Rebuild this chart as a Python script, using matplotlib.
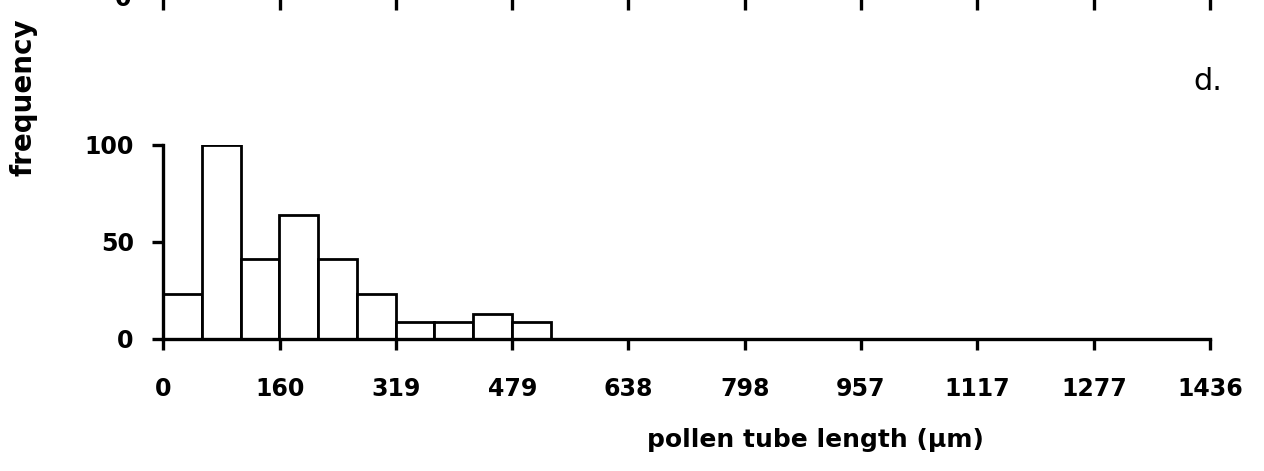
import numpy as np
import matplotlib
matplotlib.use('Agg')
import matplotlib.pyplot as plt

plt.rcParams['font.family'] = ['DejaVu Sans']
plt.rcParams['font.weight'] = 'bold'

# histogram of pollen tube lengths (panel d)
x_max = 1436
n_bins = 27
counts = [23, 100, 41, 64, 41, 23, 9, 9, 13, 9]
x_ticks = [0, 160, 319, 479, 638, 798, 957, 1117, 1277, 1436]
y_ticks = [0, 50, 100]

bin_w = x_max / n_bins
edges = np.arange(len(counts)) * bin_w

fig = plt.figure(figsize=(12.64, 4.71), dpi=100)
ax = fig.add_axes([163/1264, 1 - 339/471, 1047/1264, 194/471])

ax.bar(edges, counts, width=bin_w, align='edge', facecolor='white',
       edgecolor='black', linewidth=2)

ax.set_xlim(0, x_max)
ax.set_ylim(0, 100)
ax.set_xticks(x_ticks)
ax.set_xticklabels([str(t) for t in x_ticks])
ax.set_yticks(y_ticks)
for s in ['top', 'right']:
    ax.spines[s].set_visible(False)
for s in ['left', 'bottom']:
    ax.spines[s].set_linewidth(2.4)
ax.tick_params(axis='both', direction='out', length=8, width=2.4,
               labelsize=17)
ax.tick_params(axis='x', pad=19)
ax.tick_params(axis='y', pad=13)

# bottom edge of the panel above, cut off by the frame
ax_up = fig.add_axes([163/1264, 1 + 4/471, 1047/1264, 0.4])
ax_up.set_xlim(0, x_max)
ax_up.set_ylim(0, 100)
ax_up.set_xticks(x_ticks)
ax_up.set_xticklabels([])
ax_up.set_yticks([0])
for s in ['top', 'right', 'left']:
    ax_up.spines[s].set_visible(False)
ax_up.spines['bottom'].set_linewidth(2.4)
ax_up.tick_params(axis='both', direction='out', length=10, width=2.4,
                  labelsize=17, pad=13)
ax_up.patch.set_visible(False)

fig.text(24/1264, 1 - 97/471, 'frequency', rotation=90, ha='center',
         va='center', fontsize=20)
fig.text(815/1264, 1 - 440/471, 'pollen tube length (µm)', ha='center',
         va='center', fontsize=18)
fig.text(1208/1264, 1 - 82/471, 'd.', ha='center', va='center',
         fontsize=22, fontweight='normal')

fig.savefig('out.png', dpi=100)
